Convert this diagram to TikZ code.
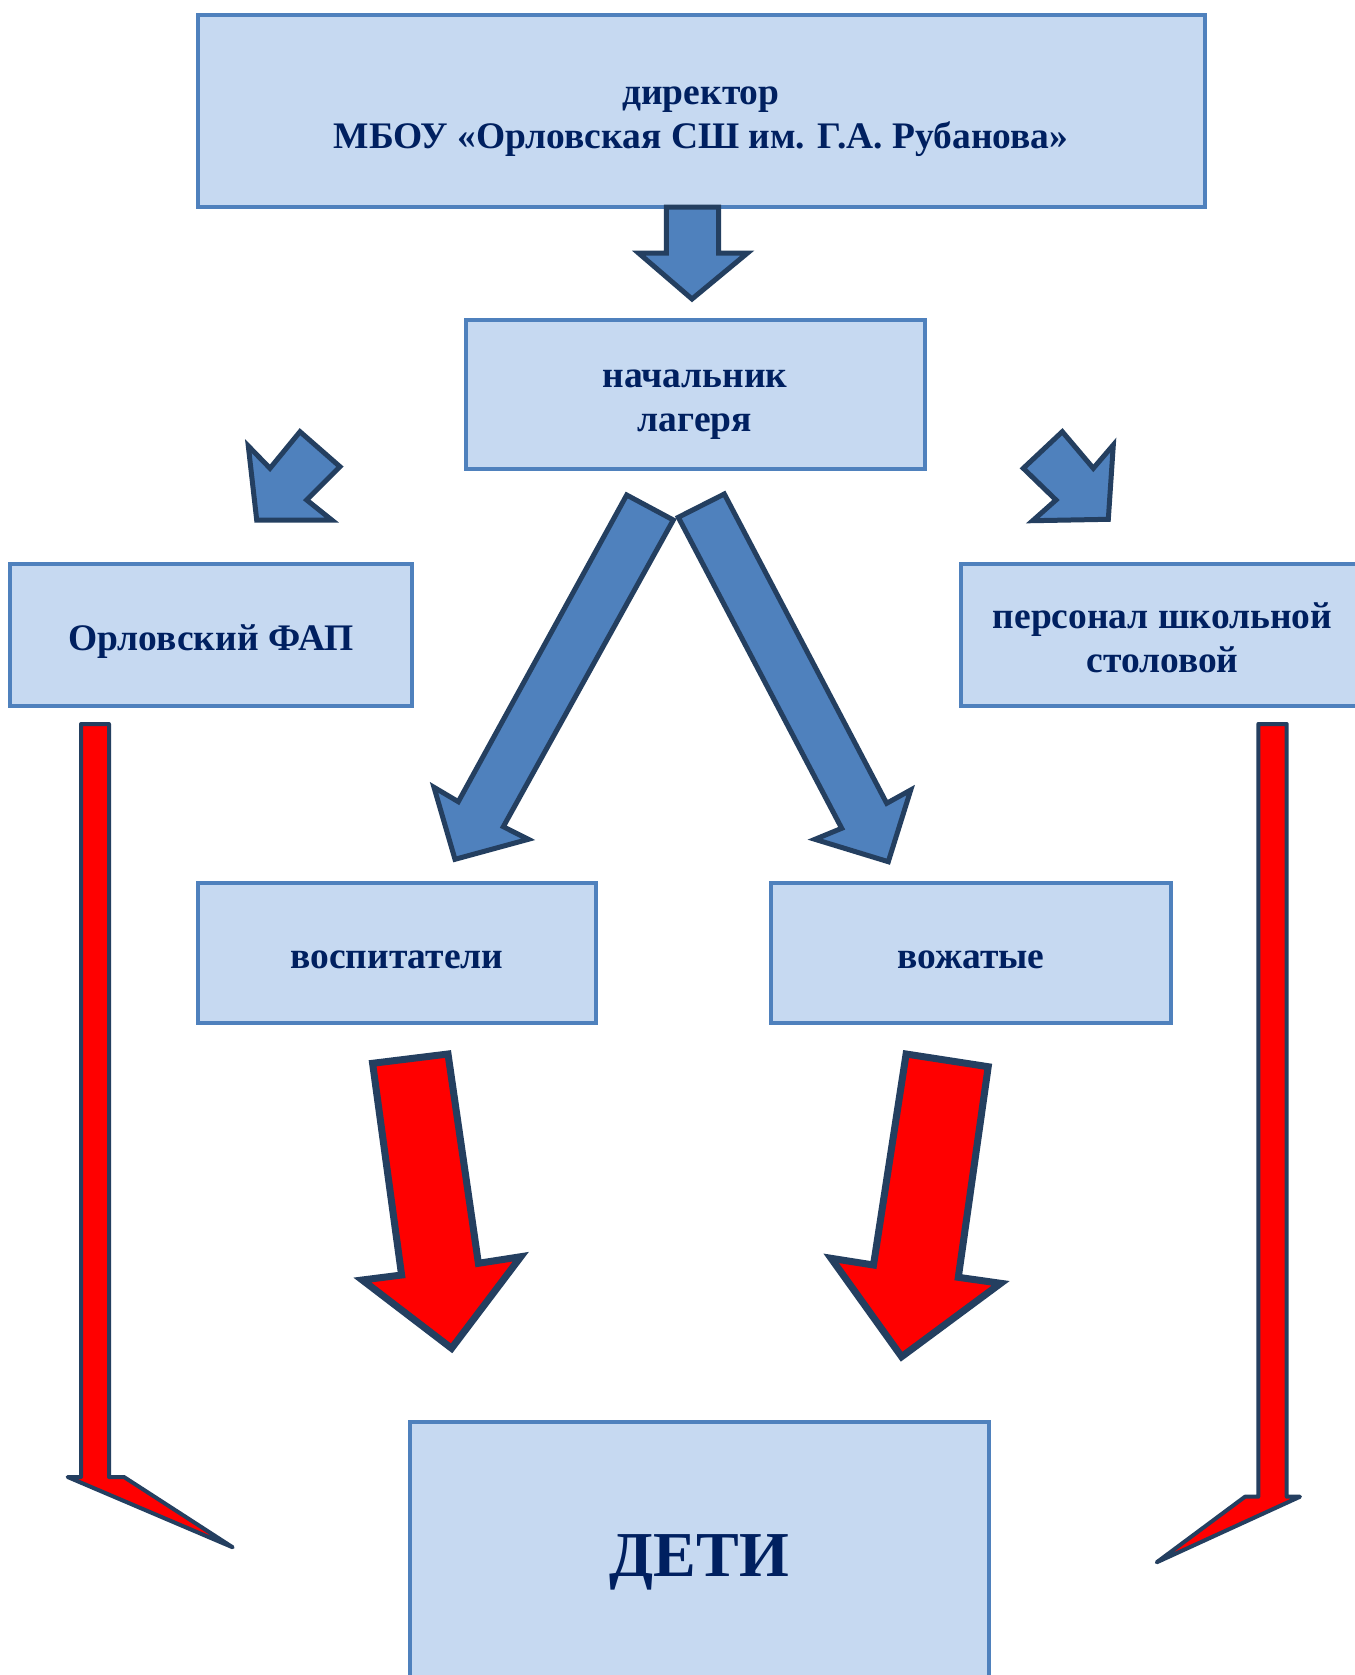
\documentclass[tikz,border=0pt]{standalone}
\usepackage{fontspec}
\setmainfont{Liberation Serif}
\definecolor{boxfill}{HTML}{C6D9F1}
\definecolor{boxborder}{HTML}{4F81BD}
\definecolor{arrowblue}{HTML}{4F81BD}
\definecolor{arrowedge}{HTML}{243F60}
\definecolor{navytext}{HTML}{002060}
\begin{document}
\begin{tikzpicture}[x=1pt,y=-1pt,
  box/.style={draw=boxborder, fill=boxfill, line width=4pt, inner sep=0pt},
  label/.style={text=navytext, align=center, inner sep=0pt,
    font=\bfseries\fontsize{37.5}{44}\selectfont},
  bluearrow/.style={fill=arrowblue, draw=arrowedge, line width=5pt, line join=miter},
  redarrow/.style={fill=red, draw=arrowedge, line width=7pt, line join=miter},
  longred/.style={fill=red, draw=arrowedge, line width=4pt, line join=round}]
\useasboundingbox[fill=white] (0,0) rectangle (1354,1675);

% boxes
\node[box, minimum width=1007pt, minimum height=191pt] (dir) at (701,111) {};
\node[box, minimum width=459pt, minimum height=149pt] (nach) at (695,394) {};
\node[box, minimum width=402pt, minimum height=142pt] (fap) at (211,634.5) {};
\node[box, minimum width=404pt, minimum height=142pt] (pers) at (1162.5,634.5) {};
\node[box, minimum width=398pt, minimum height=140pt] (vosp) at (397,952.5) {};
\node[box, minimum width=400pt, minimum height=140pt] (vozh) at (971,952.5) {};
\node[box, minimum width=579pt, minimum height=300pt] (deti) at (699.5,1572) {};

% texts
\node[label] (dirtext) at (701,121.5) {директор\\МБОУ «Орловская СШ им. Г.А. Рубанова»};
\node[label] (nachtext) at (695,404.5) {начальник\\лагеря};
\node[label] (faptext) at (211,642) {Орловский ФАП};
\node[label] (perstext) at (1162.5,637.5) {персонал школьной\\столовой};
\node[label] (vosptext) at (397,960) {воспитатели};
\node[label] (vozhtext) at (971,960) {вожатые};
\node[label, font=\bfseries\fontsize{64}{70}\selectfont] (detitext) at (699.5,1562) {ДЕТИ};

% blue arrows
\draw[bluearrow] (666.3,207) -- (718.6,207) -- (718.6,253) -- (747.5,253) -- (692,299) -- (638.5,253) -- (666.3,253) -- cycle;
\draw[bluearrow] (256.7,520) -- (248.3,446) -- (270,468.3) -- (300,431.7) -- (340,466.7) -- (306.7,500) -- (331.7,520) -- cycle;
\draw[bluearrow] (1108.3,519.3) -- (1113.3,445) -- (1093.3,468.3) -- (1062.3,431.7) -- (1023.3,468.3) -- (1056,500) -- (1032.7,520.7) -- cycle;
\draw[bluearrow] (626.7,495) -- (673.3,520) -- (503.3,826.7) -- (528.3,839.3) -- (455,859.3) -- (434,787.3) -- (458.3,801.7) -- cycle;
\draw[bluearrow] (678.3,517.3) -- (724.3,494) -- (886.7,803.3) -- (910.7,790) -- (888.3,861.7) -- (815,839.3) -- (841.7,828.3) -- cycle;

% red middle arrows
\draw[redarrow] (372.6,1063.3) -- (448,1054) -- (478.4,1263.3) -- (520.8,1256.7) -- (451.6,1348.3) -- (362.3,1280) -- (401.6,1275) -- cycle;
\draw[redarrow] (906.1,1054) -- (988.2,1066.7) -- (958.3,1277.3) -- (1000.7,1283.3) -- (901.6,1356.7) -- (831.1,1258.3) -- (873.5,1265) -- cycle;

% long red arrows
\draw[longred] (81,724) -- (109,724) -- (109,1477) -- (124,1477) -- (232.7,1547.3) -- (67.7,1477) -- (81,1477) -- cycle;
\draw[longred] (1258.3,724) -- (1286.7,724) -- (1286.7,1496.7) -- (1300,1496.7) -- (1156.7,1562.3) -- (1245,1496.7) -- (1258.3,1496.7) -- cycle;
\end{tikzpicture}
\end{document}
